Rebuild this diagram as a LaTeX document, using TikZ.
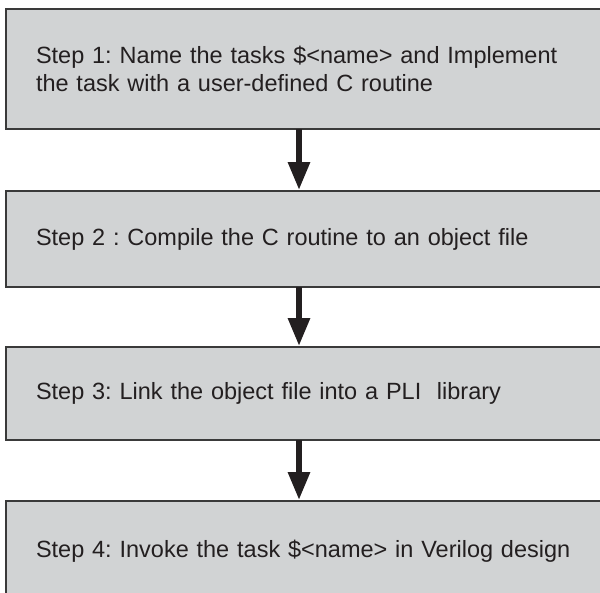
\documentclass[tikz,border=0pt]{standalone}
\usepackage{fontspec}
\setmainfont{Liberation Sans}
\usetikzlibrary{positioning,arrows.meta}
\definecolor{boxgray}{HTML}{D1D3D4}
\definecolor{edgegray}{HTML}{3A3A3A}
\definecolor{inkblack}{HTML}{231F20}
\frenchspacing
\tikzset{
  stepbox/.style={draw=edgegray, line width=2pt, fill=boxgray, text=inkblack,
    minimum width=604pt, text width=544pt, inner xsep=30pt, inner ysep=0pt,
    outer sep=0pt, align=left, font=\fontsize{23.5pt}{28pt}\selectfont},
  flow/.style={draw=inkblack, line width=6pt,
    -{Triangle[width=21pt,length=28pt]}, shorten >=1pt}
}
\begin{document}
\begin{tikzpicture}[x=1pt,y=1pt]
\useasboundingbox (0,0) rectangle (600,-592);
\clip (0,0) rectangle (600,-592);
\node[stepbox, minimum height=120pt, anchor=north west] (s1) at (6,-9)
  {Step 1: Name the tasks \$<name> and Implement\\the task with a user-defined C routine};
\node[stepbox, minimum height=96pt, below=62pt of s1] (s2)
  {Step 2 : Compile the C routine to an object file};
\node[stepbox, minimum height=93pt, below=60pt of s2] (s3)
  {Step 3: Link the object file into a PLI~ library};
\node[stepbox, minimum height=100pt, below=61pt of s3] (s4)
  {Step 4: Invoke the task \$<name> in Verilog design};
\coordinate (ax) at (299,0);
\draw[flow] (s1.south -| ax) -- (s2.north -| ax);
\draw[flow] (s2.south -| ax) -- (s3.north -| ax);
\draw[flow] (s3.south -| ax) -- (s4.north -| ax);
\end{tikzpicture}
\end{document}
